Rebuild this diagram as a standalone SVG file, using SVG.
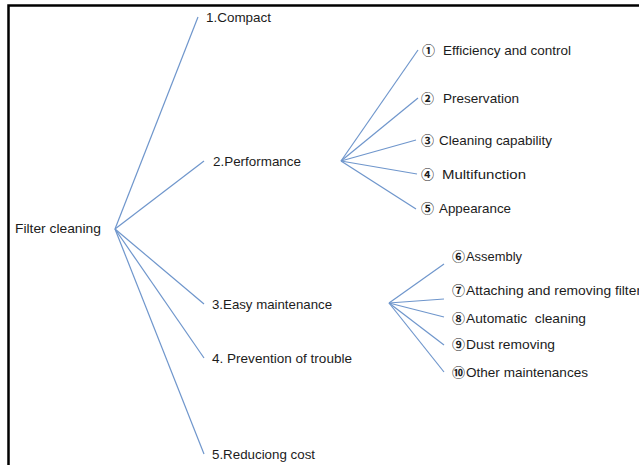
<svg xmlns="http://www.w3.org/2000/svg" width="639" height="465" viewBox="0 0 639 465">
<style>
.t{font-family:"Liberation Sans","Noto Sans CJK JP",sans-serif;font-size:13px;fill:#1c1c1c}
.n{font-family:"Noto Sans CJK JP",sans-serif;font-size:13px;font-weight:bold;fill:#1c1c1c}
.c line{stroke:#6f96cc;stroke-width:1.2}
</style>
<rect width="639" height="465" fill="#fff"/>
<path d="M8.5 465 V5.5 H639" fill="none" stroke="#000" stroke-width="2.5"/>
<g class="c" id="connectors">
<line x1="115" y1="229" x2="198" y2="17"/>
<line x1="115" y1="229" x2="204" y2="161"/>
<line x1="115" y1="229" x2="204" y2="304"/>
<line x1="115" y1="229" x2="204" y2="358"/>
<line x1="115" y1="229" x2="204" y2="454"/>
<line x1="341" y1="161" x2="418" y2="50"/>
<line x1="341" y1="161" x2="418" y2="98"/>
<line x1="341" y1="161" x2="416" y2="140"/>
<line x1="341" y1="161" x2="417" y2="174"/>
<line x1="341" y1="161" x2="416" y2="209"/>
<line x1="389" y1="303" x2="444" y2="264"/>
<line x1="389" y1="303" x2="444" y2="299"/>
<line x1="389" y1="303" x2="444" y2="317"/>
<line x1="389" y1="303" x2="444" y2="345"/>
<line x1="389" y1="303" x2="444" y2="372"/>
</g>
<g id="root"><text class="t" x="15" y="233" textLength="86" lengthAdjust="spacingAndGlyphs">Filter cleaning</text></g>
<g id="n1"><text class="t" x="206" y="22" textLength="65" lengthAdjust="spacingAndGlyphs">1.Compact</text></g>
<g id="n2"><text class="t" x="213" y="166" textLength="88" lengthAdjust="spacingAndGlyphs">2.Performance</text></g>
<g id="n3"><text class="t" x="212" y="309" textLength="120" lengthAdjust="spacingAndGlyphs">3.Easy maintenance</text></g>
<g id="n4"><text class="t" x="212" y="363" textLength="140" lengthAdjust="spacingAndGlyphs">4. Prevention of trouble</text></g>
<g id="n5"><text class="t" x="212" y="459" textLength="103" lengthAdjust="spacingAndGlyphs">5.Reduciong cost</text></g>
<g id="p1"><text class="n" x="422" y="55">①</text><text class="t" x="443" y="55" textLength="128" lengthAdjust="spacingAndGlyphs">Efficiency and control</text></g>
<g id="p2"><text class="n" x="421" y="103">②</text><text class="t" x="443" y="103" textLength="76" lengthAdjust="spacingAndGlyphs">Preservation</text></g>
<g id="p3"><text class="n" x="421" y="145">③</text><text class="t" x="439" y="145" textLength="113" lengthAdjust="spacingAndGlyphs">Cleaning capability</text></g>
<g id="p4"><text class="n" x="421" y="179">④</text><text class="t" x="442" y="179" textLength="84" lengthAdjust="spacingAndGlyphs">Multifunction</text></g>
<g id="p5"><text class="n" x="421" y="213">⑤</text><text class="t" x="439" y="213" textLength="72" lengthAdjust="spacingAndGlyphs">Appearance</text></g>
<g id="m6"><text class="n" x="452" y="261">⑥</text><text class="t" x="466" y="261" textLength="56" lengthAdjust="spacingAndGlyphs">Assembly</text></g>
<g id="m7"><text class="n" x="452" y="295">⑦</text><text class="t" x="466" y="295" textLength="175" lengthAdjust="spacingAndGlyphs">Attaching and removing filter</text></g>
<g id="m8"><text class="n" x="452" y="323">⑧</text><text class="t" x="466" y="323" textLength="120" lengthAdjust="spacingAndGlyphs" xml:space="preserve">Automatic  cleaning</text></g>
<g id="m9"><text class="n" x="452" y="349">⑨</text><text class="t" x="466" y="349" textLength="89" lengthAdjust="spacingAndGlyphs">Dust removing</text></g>
<g id="m10"><text class="n" x="452" y="377">⑩</text><text class="t" x="466" y="377" textLength="122" lengthAdjust="spacingAndGlyphs">Other maintenances</text></g>
</svg>
